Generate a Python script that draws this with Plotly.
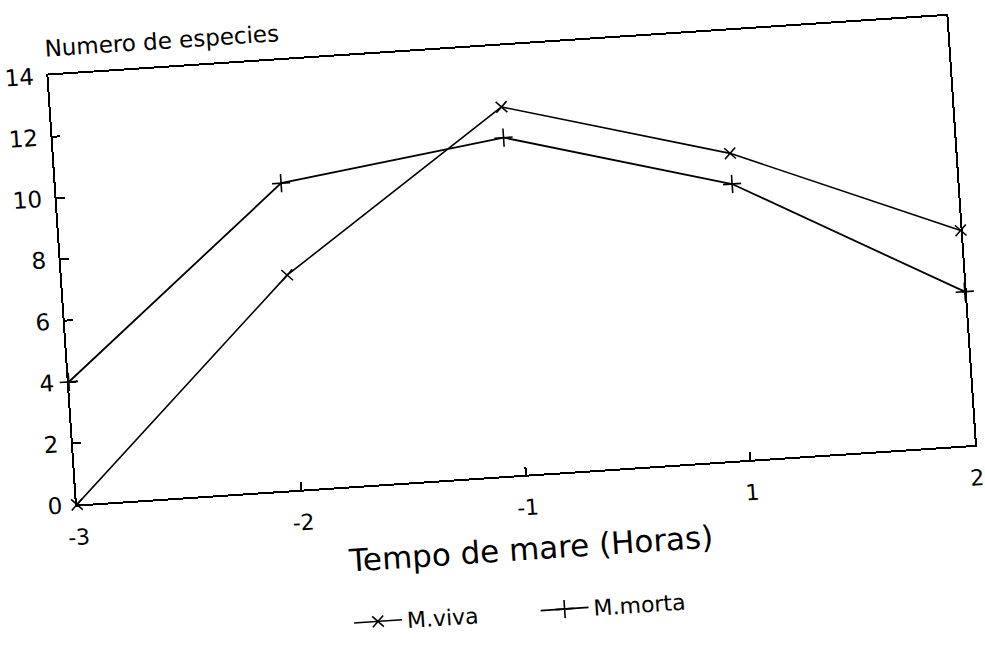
import plotly.graph_objects as go

# ---- data ----
hours = ["-3", "-2", "-1", "1", "2"]
viva = [0, 7, 12, 10, 7]      # M.viva  (x markers)
morta = [4, 10, 11, 9, 5]     # M.morta (+ markers)
y_ticks = [0, 2, 4, 6, 8, 10, 12, 14]

FONT = "DejaVu Sans"

fig = go.Figure()
fig.add_trace(go.Scatter(
    x=hours, y=viva, name="M.viva", mode="lines+markers",
    line=dict(color="black", width=1.6),
    marker=dict(symbol="x-thin", size=11, color="black",
                line=dict(color="black", width=1.6)),
    cliponaxis=False))
fig.add_trace(go.Scatter(
    x=hours, y=morta, name="M.morta", mode="lines+markers",
    line=dict(color="black", width=1.8),
    marker=dict(symbol="cross-thin", size=13, color="black",
                line=dict(color="black", width=1.6)),
    cliponaxis=False))

fig.update_layout(
    width=985, height=645,
    margin=dict(l=62, r=23, t=45, b=160),
    paper_bgcolor="white", plot_bgcolor="white",
    font=dict(family=FONT, color="black"),
    showlegend=True,
    legend=dict(orientation="h", x=0.293, xanchor="left",
                y=-0.318, yanchor="middle",
                itemwidth=48, entrywidth=124, entrywidthmode="pixels",
                font=dict(size=22, family=FONT),
                bgcolor="rgba(0,0,0,0)"),
    annotations=[
        dict(text="Numero de especies", xref="paper", yref="paper",
             x=0, y=1, xanchor="left", yanchor="bottom", yshift=12,
             xshift=-4,
             showarrow=False, font=dict(size=23, family=FONT)),
        dict(text="Tempo de mare (Horas)", xref="paper", yref="paper",
             x=0.5, y=-0.172, xanchor="center", yanchor="middle",
             showarrow=False, font=dict(size=31, family=FONT)),
    ],
)

fig.update_xaxes(
    type="category", categoryorder="array", categoryarray=hours,
    range=[0, 4], showline=True, mirror=True, linecolor="black", linewidth=2,
    ticks="inside", ticklen=8, tickwidth=1.5, tickcolor="black",
    showgrid=False, zeroline=False, tickfont=dict(size=22, family=FONT),
    ticklabelstandoff=12)
fig.update_yaxes(
    range=[0, 14], tickvals=y_ticks, ticktext=[str(v) for v in y_ticks],
    showline=True, mirror=True, linecolor="black", linewidth=2,
    ticks="inside", ticklen=8, tickwidth=1.5, tickcolor="black",
    showgrid=False, zeroline=False, tickfont=dict(size=23, family=FONT),
    ticklabelstandoff=8)

post = ("document.body.style.margin='0';"
        "var gd=document.getElementById('{plot_id}');"
        "gd.style.transformOrigin='515px 265px';"
        "gd.style.transform='rotate(-3.8deg)';")

fig.write_html("out.html", post_script=post)
